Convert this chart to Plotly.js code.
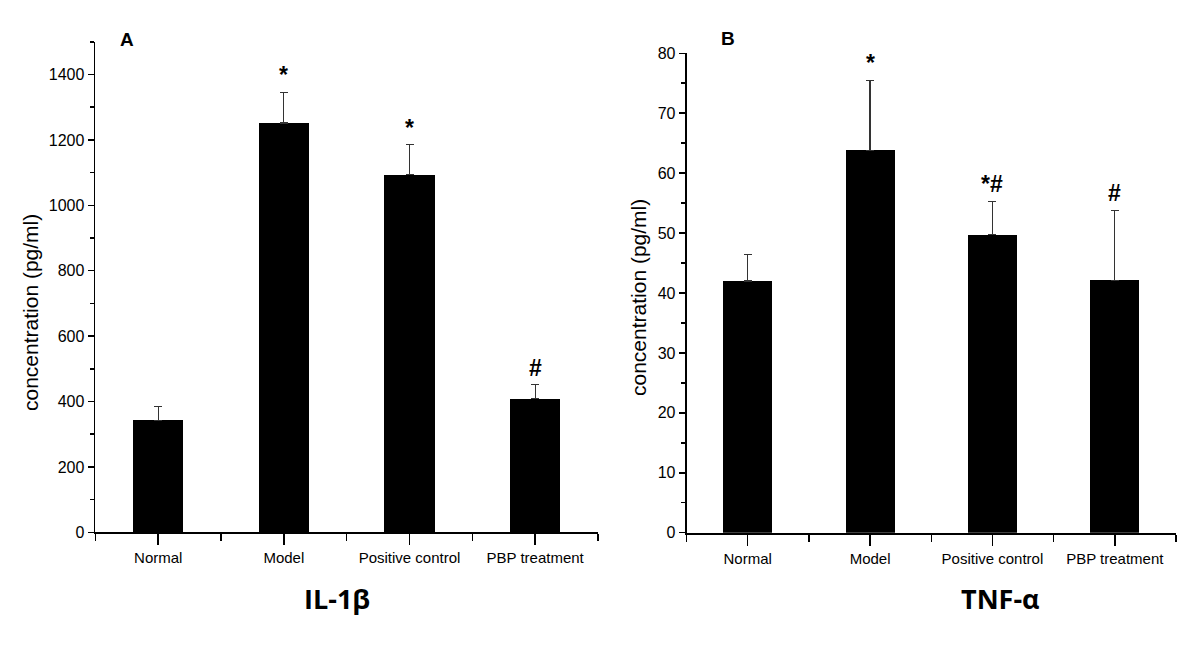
<!DOCTYPE html>
<html>
<head>
<meta charset="utf-8">
<script src="https://cdn.plot.ly/plotly-3.0.1.min.js"></script>
<style>
  html, body { margin: 0; padding: 0; background: #fff; }
  #plot { width: 1200px; height: 671px; }
</style>
</head>
<body>
<div id="plot"></div>
<script>
// groups shown on both panels
const groups = ["Normal", "Model", "Positive control", "PBP treatment"];

// panel A : IL-1beta (pg/ml), mean and upper error
const il1bMean = [343, 1252, 1093, 409];
const il1bErr  = [42, 94, 92, 42];
const il1bMarks = ["", "*", "*", "#"];

// panel B : TNF-alpha (pg/ml)
const tnfMean = [42.0, 63.8, 49.7, 42.1];
const tnfErr  = [4.4, 11.7, 5.6, 11.7];
const tnfMarks = ["", "*", "*#", "#"];

const FONT = "Liberation Sans, Arial, sans-serif";
const xi = groups.map((g, i) => i);
const bounds = groups.map((g, i) => i - 0.5).concat([groups.length - 0.5]);

function barTrace(mean, err, xa, ya) {
  return {
    type: "bar",
    x: xi,
    y: mean,
    xaxis: xa,
    yaxis: ya,
    width: 0.4,
    marker: { color: "#000", line: { width: 0 } },
    error_y: {
      type: "data",
      symmetric: false,
      array: err,
      arrayminus: mean.map(() => 0),
      color: "#333",
      thickness: 1.2,
      width: 4
    },
    showlegend: false,
    hoverinfo: "x+y"
  };
}

function xAxis(domain, anchor) {
  return {
    domain: domain,
    anchor: anchor,
    range: [-0.5, 3.5],
    tickmode: "array",
    tickvals: xi,
    ticktext: groups,
    ticks: "outside",
    ticklen: 11,
    tickwidth: 1.5,
    tickcolor: "#000",
    minor: { tickmode: "array", tickvals: bounds, ticks: "outside", ticklen: 7, tickwidth: 1.5, tickcolor: "#000" },
    showline: true,
    linecolor: "#000",
    linewidth: 1.8,
    showgrid: false,
    zeroline: false,
    tickfont: { family: FONT, size: 15, color: "#000" },
    fixedrange: true
  };
}

function yAxis(domain, anchor, range, dtick) {
  return {
    domain: domain,
    anchor: anchor,
    range: range,
    dtick: dtick,
    ticks: "outside",
    ticklen: 6,
    tickwidth: 1.5,
    tickcolor: "#000",
    minor: { dtick: dtick / 2, ticks: "outside", ticklen: 4, tickwidth: 1.5, tickcolor: "#000" },
    showline: true,
    linecolor: "#000",
    linewidth: 1.8,
    showgrid: false,
    zeroline: false,
    tickfont: { family: FONT, size: 16, color: "#000" },
    fixedrange: true
  };
}

function marks(labels, mean, err, xr, yr) {
  return labels.map((t, i) => ({
    text: t,
    x: i,
    y: mean[i] + err[i],
    xref: xr,
    yref: yr,
    xanchor: "center",
    yanchor: "middle",
    yshift: 17,
    showarrow: false,
    font: { family: FONT, size: 23, color: "#000", weight: "bold" }
  })).filter(a => a.text);
}

// free text placed in paper coordinates (px converted to fractions)
function note(text, px, py, size, family, angle) {
  return {
    text: text,
    x: px / 1200,
    y: 1 - py / 671,
    xref: "paper",
    yref: "paper",
    xanchor: "center",
    yanchor: "middle",
    textangle: angle || 0,
    showarrow: false,
    font: { family: family, size: size, color: "#000" }
  };
}

const data = [
  barTrace(il1bMean, il1bErr, "x", "y"),
  barTrace(tnfMean, tnfErr, "x2", "y2")
];

const annotations = [].concat(
  marks(il1bMarks, il1bMean, il1bErr, "x", "y"),
  marks(tnfMarks, tnfMean, tnfErr, "x2", "y2"),
  [
    note("<b>A</b>", 127, 40, 19, FONT),
    note("<b>B</b>", 728, 38, 19, FONT),
    note("concentration (pg/ml)", 30, 313, 21, FONT, -90),
    note("concentration (pg/ml)", 638, 298, 21, FONT, -90),
    note("<b>IL-1β</b>", 337, 598, 27, "Open Sans, sans-serif"),
    note("<b>TNF-α</b>", 1001, 598, 27, "Open Sans, sans-serif")
  ]
);

const layout = {
  width: 1200,
  height: 671,
  margin: { l: 0, r: 0, t: 0, b: 0 },
  paper_bgcolor: "#fff",
  plot_bgcolor: "#fff",
  bargap: 0,
  xaxis: xAxis([0.0795, 0.4983], "y"),
  yaxis: yAxis([0.2067, 0.9377], "x", [0, 1500], 200),
  xaxis2: xAxis([0.5721, 0.98], "y2"),
  yaxis2: yAxis([0.2061, 0.9206], "x2", [0, 80], 10),
  annotations: annotations
};

Plotly.newPlot("plot", data, layout, { displayModeBar: false, staticPlot: true });
</script>
</body>
</html>
